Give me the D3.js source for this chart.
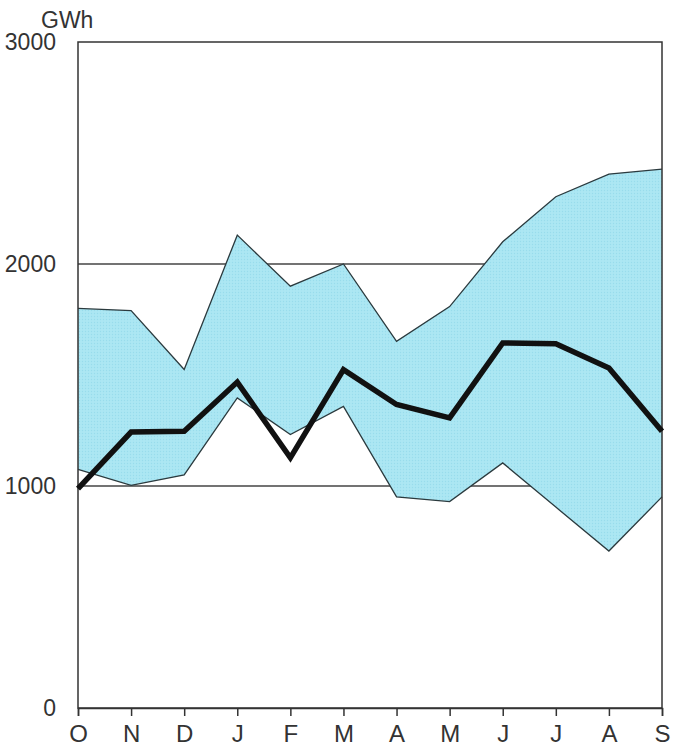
<!DOCTYPE html>
<html>
<head>
<meta charset="utf-8">
<script src="https://cdn.jsdelivr.net/npm/d3@7"></script>
<style>
  body { margin: 0; background: #fff; }
  text { font-family: "Liberation Sans", Arial, sans-serif; fill: #333; }
</style>
</head>
<body>
<div id="chart"></div>
<script>
// months Oct -> Sep
var months = ["O", "N", "D", "J", "F", "M", "A", "M", "J", "J", "A", "S"];
var bandHigh = [1800, 1790, 1525, 2130, 1900, 2000, 1652, 1808, 2100, 2303, 2405, 2427];
var bandLow = [1075, 1003, 1050, 1397, 1232, 1359, 951, 930, 1104, 905, 707, 951];
var actual = [988, 1243, 1247, 1468, 1127, 1524, 1367, 1307, 1644, 1641, 1532, 1247];
var yTicks = [0, 1000, 2000, 3000];
var gridValues = [1000, 2000];

function GwhChart() {
  var svgWidth = 673;
  var svgHeight = 749;
  var margin = { top: 42, right: 11, bottom: 41, left: 78 };
  var width = svgWidth - margin.left - margin.right;
  var height = svgHeight - margin.top - margin.bottom;

  var svg = d3.select("#chart")
    .append("svg")
    .attr("width", svgWidth)
    .attr("height", svgHeight);

  // dotted screen for the band
  var pat = svg.append("defs").append("pattern")
    .attr("id", "dots")
    .attr("width", 3)
    .attr("height", 3)
    .attr("patternUnits", "userSpaceOnUse");
  pat.append("rect").attr("width", 3).attr("height", 3).attr("fill", "#ace7f3");
  pat.append("circle").attr("cx", 1.5).attr("cy", 1.5).attr("r", 0.7).attr("fill", "#98dcec");

  var chart = svg.append("g")
    .attr("transform", `translate(${margin.left}, ${margin.top})`);

  var x = d3.scalePoint()
    .domain(d3.range(months.length))
    .range([0, width]);

  var y = d3.scaleLinear()
    .domain([0, 3000])
    .range([height, 0]);

  // grid lines
  chart.selectAll(".grid")
    .data(gridValues)
    .enter()
    .append("line")
    .attr("x1", 0)
    .attr("x2", width)
    .attr("y1", d => y(d))
    .attr("y2", d => y(d))
    .attr("stroke", "#444")
    .attr("stroke-width", 1.3);

  // band between high and low
  var area = d3.area()
    .x((d, i) => x(i))
    .y0((d, i) => y(bandLow[i]))
    .y1((d, i) => y(bandHigh[i]));

  chart.append("path")
    .datum(months)
    .attr("d", area)
    .attr("fill", "url(#dots)")
    .attr("stroke", "none");

  var line = d3.line().x((d, i) => x(i)).y(d => y(d));
  [bandHigh, bandLow].forEach(function(s) {
    chart.append("path")
      .datum(s)
      .attr("d", line)
      .attr("fill", "none")
      .attr("stroke", "#2b3a3e")
      .attr("stroke-width", 1.3);
  });

  // frame
  chart.append("rect")
    .attr("width", width)
    .attr("height", height)
    .attr("fill", "none")
    .attr("stroke", "#333")
    .attr("stroke-width", 1.5);

  // main line
  chart.append("path")
    .datum(actual)
    .attr("d", line)
    .attr("fill", "none")
    .attr("stroke", "#111")
    .attr("stroke-width", 5.5)
    .attr("stroke-linejoin", "miter");

  // x axis
  var xAxis = d3.axisBottom(x)
    .tickSize(8)
    .tickPadding(9)
    .tickFormat(i => months[i]);

  var gx = chart.append("g")
    .attr("transform", `translate(0, ${height})`)
    .call(xAxis);
  gx.select(".domain").attr("stroke", "#333").attr("stroke-width", 1.5);
  gx.selectAll(".tick line").attr("stroke", "#333").attr("stroke-width", 1.5);
  gx.selectAll(".tick text")
    .attr("font-size", "24px")
    .attr("fill", "#333")
    .attr("font-family", "Liberation Sans, Arial, sans-serif");

  // y axis labels
  var yAxis = d3.axisLeft(y)
    .tickValues(yTicks)
    .tickFormat(d3.format("d"))
    .tickSize(0)
    .tickPadding(22);

  var gy = chart.append("g").call(yAxis);
  gy.select(".domain").remove();
  gy.selectAll(".tick text")
    .attr("font-size", "23px")
    .attr("fill", "#333")
    .attr("font-family", "Liberation Sans, Arial, sans-serif");

  // unit label
  chart.append("text")
    .attr("x", -37)
    .attr("y", -14)
    .attr("font-size", "23px")
    .text("GWh");
}

GwhChart();
</script>
</body>
</html>
